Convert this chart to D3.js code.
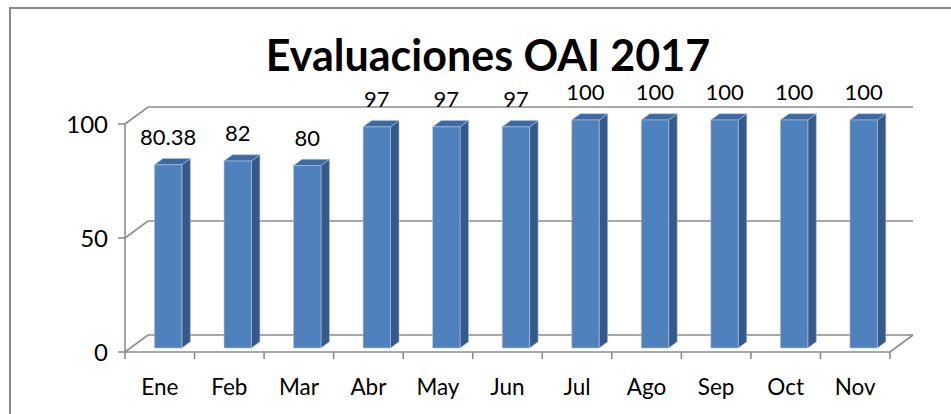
<!DOCTYPE html>
<html>
<head>
<meta charset="utf-8">
<script src="https://cdn.jsdelivr.net/npm/d3@7"></script>
<style>
  body { margin: 0; background: #fff; }
  text { font-family: Lato, "Open Sans", sans-serif; fill: #000; }
</style>
</head>
<body>
<div id="chart"></div>
<script>
var months = ["Ene", "Feb", "Mar", "Abr", "May", "Jun", "Jul", "Ago", "Sep", "Oct", "Nov"]
var values = [80.38, 82, 80, 97, 97, 97, 100, 100, 100, 100, 100]
var valueLabels = ["80.38", "82", "80", "97", "97", "97", "100", "100", "100", "100", "100"]
var yTicks = [0, 50, 100]

var width = 951, height = 414

var svg = d3.select("#chart").append("svg")
    .attr("width", width)
    .attr("height", height)

// chart frame
svg.append("rect")
    .attr("x", 10).attr("y", 8)
    .attr("width", 960).attr("height", 420)
    .attr("fill", "none")
    .attr("stroke", "#8a8a8a")
    .attr("stroke-width", 2)

svg.append("text")
    .attr("x", 488).attr("y", 71)
    .attr("text-anchor", "middle")
    .style("font-size", "43px")
    .style("font-weight", "bold")
    .text("Evaluaciones OAI 2017")

var x = d3.scaleBand().domain(months).range([125, 890])
var y = d3.scaleLinear().domain([0, 100]).range([352, 124])

// depth of the floor (oblique projection)
var depth = {dx: 23, dy: -17}
function proj(px, py, z) {
  return [px + depth.dx * z, py + depth.dy * z]
}

var gridColor = "#8c8c8c"
var grid = svg.append("g")
    .attr("fill", "none")
    .attr("stroke", gridColor)
    .attr("stroke-width", 1.6)

// back wall gridlines + side diagonals
yTicks.forEach(function(t) {
  var a = proj(x.range()[0], y(t), 0)
  var b = proj(x.range()[0], y(t), 1)
  var c = proj(x.range()[1], y(t), 1)
  grid.append("polyline").attr("points", [a, b, c].map(String).join(" "))
})
// floor right edge
var fr0 = proj(x.range()[1], y(0), 0), fr1 = proj(x.range()[1], y(0), 1)
grid.append("line")
    .attr("x1", fr0[0]).attr("y1", fr0[1])
    .attr("x2", fr1[0]).attr("y2", fr1[1])

// front axes
var axes = svg.append("g").attr("stroke", gridColor).attr("stroke-width", 1.6)
axes.append("line")
    .attr("x1", x.range()[0]).attr("x2", x.range()[0])
    .attr("y1", y(0)).attr("y2", y(100))
axes.append("line")
    .attr("x1", x.range()[0]).attr("x2", x.range()[1])
    .attr("y1", y(0)).attr("y2", y(0))
axes.selectAll(".ytick").data(yTicks).enter().append("line")
    .attr("x1", x.range()[0] - 7).attr("x2", x.range()[0])
    .attr("y1", function(d) { return y(d) }).attr("y2", function(d) { return y(d) })
var edges = months.map(function(m) { return x(m) }).concat([x.range()[1]])
axes.selectAll(".xtick").data(edges).enter().append("line")
    .attr("x1", function(d) { return d }).attr("x2", function(d) { return d })
    .attr("y1", y(0)).attr("y2", y(0) + 7)

svg.selectAll(".ylab").data(yTicks).enter().append("text")
    .attr("x", 108)
    .attr("y", function(d) { return y(d) + 9 })
    .attr("text-anchor", "end")
    .style("font-size", "24px")
    .text(function(d) { return d })

svg.selectAll(".xlab").data(months).enter().append("text")
    .attr("x", function(d) { return x(d) + x.bandwidth() / 2 })
    .attr("y", 395)
    .attr("text-anchor", "middle")
    .style("font-size", "22.5px")
    .text(function(d) { return d })

// 3d columns
var z0 = 0.235, z1 = 0.605
var barW = 27.4
var bars = svg.selectAll(".bar").data(values).enter().append("g")
    .attr("stroke", "#a9c1df")
    .attr("stroke-width", 0.6)
    .attr("stroke-linejoin", "round")

function barLeft(i) {
  return x(months[i]) + x.bandwidth() / 2 - barW / 2 + 3
}
function pts(list) { return list.map(String).join(" ") }

bars.each(function(v, i) {
  var g = d3.select(this)
  var xl = barLeft(i), xr = xl + barW
  var fl0 = proj(xl, y(0), z0), fr0 = proj(xr, y(0), z0)
  var flt = proj(xl, y(v), z0), frt = proj(xr, y(v), z0)
  var blt = proj(xl, y(v), z1), brt = proj(xr, y(v), z1), br0 = proj(xr, y(0), z1)
  // side
  g.append("polygon").attr("points", pts([fr0, frt, brt, br0])).attr("fill", "#36598a")
  // top
  g.append("polygon").attr("points", pts([flt, frt, brt, blt])).attr("fill", "#3e6aa2")
  // front
  g.append("polygon").attr("points", pts([fl0, flt, frt, fr0])).attr("fill", "#4f81bd")
})

svg.selectAll(".vlab").data(values).enter().append("text")
    .attr("x", function(d, i) { return proj(barLeft(i) + barW / 2, 0, z0)[0] })
    .attr("y", function(d) { return proj(0, y(d), z0)[1] - 20 })
    .attr("text-anchor", "middle")
    .style("font-size", "22px")
    .text(function(d, i) { return valueLabels[i] })
</script>
</body>
</html>
